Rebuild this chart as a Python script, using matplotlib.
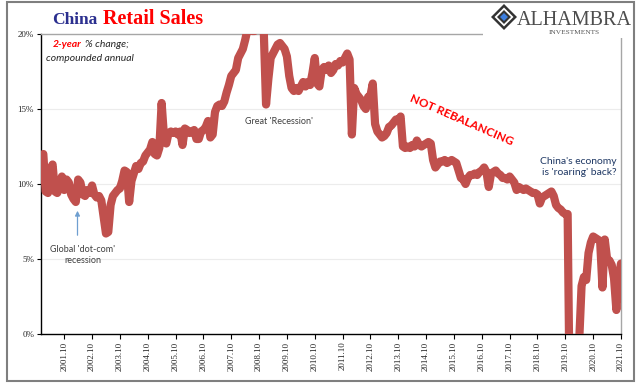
import matplotlib
matplotlib.use("Agg")
import matplotlib.pyplot as plt
import matplotlib.patches as mpatches
import numpy as np

W, H = 641, 386

# China retail sales, 2-year % change compounded annual (monthly, Jan..Dec)
sales_2001 = [12.0, 9.5, 9.4, 11.0, 11.3, 9.5, 9.4, 9.8, 10.5, 9.6, 10.3, 10.1]
sales_2002 = [9.3, 9.0, 8.8, 10.3, 10.1, 9.3, 9.2, 9.6, 9.4, 9.9, 9.3, 9.1]
sales_2003 = [9.2, 8.9, 7.8, 6.7, 6.8, 8.6, 9.2, 9.4, 9.6, 9.7, 10.2, 10.9]
sales_2004 = [10.8, 8.8, 10.2, 10.7, 11.2, 11.0, 11.4, 11.5, 11.9, 12.1, 12.3, 12.8]
sales_2005 = [12.0, 11.9, 12.4, 15.4, 13.2, 12.7, 13.4, 13.5, 13.4, 13.5, 13.3, 13.5]
sales_2006 = [12.6, 13.7, 13.6, 13.4, 13.5, 13.6, 13.0, 13.0, 13.5, 13.6, 13.8, 14.2]
sales_2007 = [13.1, 13.3, 14.8, 15.2, 15.3, 15.2, 15.5, 16.1, 16.6, 17.2, 17.4, 17.6]
sales_2008 = [18.4, 18.7, 19.0, 19.6, 20.3, 20.4, 20.2, 20.2, 20.3, 20.4, 20.5, 20.3]
sales_2009 = [15.3, 17.0, 18.4, 18.7, 19.0, 19.3, 19.4, 19.2, 19.0, 18.5, 17.2, 16.4]
sales_2010 = [16.2, 16.4, 16.2, 16.5, 16.8, 16.5, 16.8, 16.6, 17.4, 18.4, 16.7, 16.5]
sales_2011 = [17.6, 17.8, 17.6, 17.9, 17.4, 17.6, 18.0, 17.9, 18.2, 18.1, 18.4, 18.7]
sales_2012 = [18.3, 13.3, 16.4, 16.0, 15.8, 15.6, 15.2, 15.0, 15.8, 15.9, 16.7, 14.0]
sales_2013 = [13.5, 13.3, 13.1, 13.2, 13.4, 13.8, 13.9, 14.1, 14.3, 14.2, 14.5, 12.5]
sales_2014 = [12.4, 12.5, 12.4, 12.6, 12.5, 12.9, 12.6, 12.5, 12.6, 12.7, 12.8, 12.7]
sales_2015 = [11.6, 11.1, 11.3, 11.5, 11.5, 11.6, 11.4, 11.5, 11.6, 11.5, 11.4, 10.9]
sales_2016 = [10.4, 10.3, 10.0, 10.4, 10.6, 10.6, 10.7, 10.6, 10.8, 10.9, 11.1, 10.8]
sales_2017 = [9.8, 10.7, 10.8, 10.9, 10.7, 10.6, 10.4, 10.4, 10.3, 10.5, 10.3, 10.1]
sales_2018 = [9.6, 9.8, 9.7, 9.6, 9.7, 9.6, 9.5, 9.4, 9.4, 9.3, 8.7, 9.1]
sales_2019 = [9.2, 9.3, 9.4, 9.5, 9.2, 8.6, 8.4, 8.3, 8.1, 8.0, 8.0, -6.0]
sales_2020 = [-7.3, -4.3, -2.0, -0.4, 3.2, 3.8, 3.6, 5.4, 6.1, 6.5, 6.4, 6.3]
sales_2021 = [6.2, 3.1, 6.3, 5.0, 4.9, 4.6, 3.7, 1.6, 3.8, 4.7]

years = list(range(2001, 2022))
tick_labels = [f"{y}.10" for y in years]
y_ticks = [0, 5, 10, 15, 20]

series = (sales_2001 + sales_2002 + sales_2003 + sales_2004 + sales_2005 + sales_2006
          + sales_2007 + sales_2008 + sales_2009 + sales_2010 + sales_2011 + sales_2012
          + sales_2013 + sales_2014 + sales_2015 + sales_2016 + sales_2017 + sales_2018
          + sales_2019 + sales_2020 + sales_2021)
idx = np.arange(len(series))
tick_pos = [9 + 12 * k for k in range(len(years))]


def fx(x):
    return x / W


def fy(y):
    return 1 - y / H


fig = plt.figure(figsize=(W / 100, H / 100), dpi=100)
ax = fig.add_axes([fx(41), fy(334), 580 / W, 300 / H])

ax.plot(idx, series, color='#c0504d', linewidth=5.9,
        solid_joinstyle='round', solid_capstyle='round', zorder=3)

ax.set_xlim(-1, len(series) - 1)
ax.set_ylim(0, 20)

ax.set_yticks(y_ticks)
ax.set_yticklabels([f"{v}%" for v in y_ticks], fontsize=6.5,
                   family='Liberation Serif', color='#262626')
ax.set_xticks(tick_pos)
ax.set_xticklabels(tick_labels, rotation=90, fontsize=6.5,
                   family='Liberation Serif', color='#262626')
ax.tick_params(axis='x', direction='out', length=3.5, width=0.8, pad=2)
ax.tick_params(axis='y', direction='out', length=3, width=0.8, pad=2)

for v in [5, 10, 15]:
    ax.axhline(v, color='#ececec', linewidth=0.8, zorder=1)

ax.spines['left'].set_color('black')
ax.spines['bottom'].set_color('black')
ax.spines['top'].set_color('#a6a6a6')
ax.spines['right'].set_color('#a6a6a6')
for s in ax.spines.values():
    s.set_linewidth(1.0)

# annotations inside the plot
fig.text(fx(53), fy(47), "2-year", color='#ff0000', fontsize=7.5, family='Lato',
         style='italic', fontweight='bold', ha='left', va='baseline')
fig.text(fx(85), fy(47), "% change;", color='#262626', fontsize=7.5, family='Lato',
         style='italic', ha='left', va='baseline')
fig.text(fx(90), fy(61), "compounded annual", color='#262626', fontsize=7.5,
         family='Lato', style='italic', ha='center', va='baseline')

fig.text(fx(279), fy(122), "Great 'Recession'", color='#404040', fontsize=6.5,
         family='Lato', ha='center', va='center')
fig.text(fx(83), fy(255), "Global 'dot-com'\nrecession", color='#404040', fontsize=6.5,
         family='Lato', ha='center', va='center', linespacing=1.3)
ax.annotate('', xy=(fx(77.5), fy(208)), xytext=(fx(77.5), fy(238)),
            xycoords='figure fraction', textcoords='figure fraction',
            arrowprops=dict(arrowstyle='-|>', color='#6f9fd0', lw=0.9,
                            mutation_scale=7))

fig.text(fx(462), fy(120), "NOT REBALANCING", color='#ff0000', fontsize=8.5,
         family='Lato', fontweight='bold', rotation=-23.5,
         ha='center', va='center', rotation_mode='anchor')
fig.text(fx(617), fy(167), "China's economy\nis 'roaring' back?", color='#1f3864',
         fontsize=7.5, family='Lato', ha='right', va='center', linespacing=1.35)

# title
fig.text(fx(52), fy(23.5), "China", color='#2b2f8f', fontsize=12.5,
         family='Liberation Serif', fontweight='bold', ha='left', va='baseline')
fig.text(fx(103), fy(23.5), "Retail Sales", color='#ff0000', fontsize=14.5,
         family='Liberation Serif', fontweight='bold', ha='left', va='baseline')

# logo block (covers the top frame line on the right)
fig.patches.append(mpatches.Rectangle((fx(483), fy(37.5)), (625 - 483) / W, 35 / H,
                                      transform=fig.transFigure, facecolor='white',
                                      edgecolor='none', zorder=5))


def diamond(cx, cy, r, color):
    pts = [(fx(cx), fy(cy - r)), (fx(cx + r), fy(cy)),
           (fx(cx), fy(cy + r)), (fx(cx - r), fy(cy))]
    return mpatches.Polygon(pts, closed=True, transform=fig.transFigure,
                            facecolor=color, edgecolor='none', zorder=6)


fig.patches.append(diamond(504, 17, 13, '#333333'))
fig.patches.append(diamond(504, 17, 9.5, 'white'))
fig.patches.append(diamond(504, 17, 7, '#333333'))
fig.patches.append(diamond(504, 17, 4, '#3b7ddd'))

fig.text(fx(517), fy(25), "ALHAMBRA", color='#4d4d4d', fontsize=14.5,
         family='Liberation Serif', ha='left', va='baseline', zorder=7)
fig.text(fx(574), fy(33.5), "INVESTMENTS", color='#555555', fontsize=5.3,
         family='Liberation Serif', ha='center', va='baseline', zorder=7)

# outer frame
fig.patches.append(mpatches.Rectangle((fx(7), fy(381)), (634 - 7) / W, (381 - 2) / H,
                                      transform=fig.transFigure, facecolor='none',
                                      edgecolor='#7f7f7f', linewidth=1.5, zorder=8))

fig.savefig('out.png', dpi=100)
